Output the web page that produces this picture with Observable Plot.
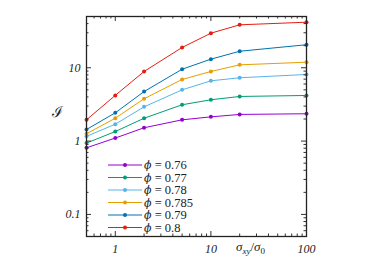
<!DOCTYPE html>
<html><head><meta charset="utf-8">
<script src="https://cdn.jsdelivr.net/npm/d3@7"></script>
<script src="https://cdn.jsdelivr.net/npm/@observablehq/plot@0.6"></script>
<style>
html,body{margin:0;padding:0;background:#fff;}
svg g[aria-label$="tick label"]{font-style:italic;}
</style>
</head><body>
<div id="chart"></div>
<script>
const xs = [0.5, 1, 2, 5, 10, 20, 100];
const phis = ["0.76", "0.77", "0.78", "0.785", "0.79", "0.8"];
const colors = ["#9400d3", "#009e73", "#56b4e9", "#e69f00", "#0072b2", "#e51e10"];
const I076 = [0.81, 1.10, 1.52, 1.95, 2.14, 2.31, 2.36];
const I077 = [0.94, 1.35, 2.05, 3.13, 3.66, 4.06, 4.19];
const I078 = [1.16, 1.70, 2.93, 5.0, 6.64, 7.3, 8.1];
const I0785 = [1.26, 2.05, 3.78, 6.92, 8.9, 10.96, 11.9];
const I079 = [1.44, 2.43, 4.74, 9.55, 13.1, 16.8, 20.6];
const I080 = [1.95, 4.2, 8.9, 18.9, 29.6, 38.5, 41.8];
const series = [I076, I077, I078, I0785, I079, I080];
const xMajor = [1, 10, 100];
const xMinor = [0.6, 0.7, 0.8, 0.9, 2, 3, 4, 5, 6, 7, 8, 9, 20, 30, 40, 50, 60, 70, 80, 90];
const yMajor = [0.1, 1, 10];
const yMinor = [0.06, 0.07, 0.08, 0.09, 0.2, 0.3, 0.4, 0.5, 0.6, 0.7, 0.8, 0.9, 2, 3, 4, 5, 6, 7, 8, 9, 20, 30, 40];
const xLabels = ["1", "10", "100"];
const yLabels = ["0.1", "1", "10"];

const rows = [];
series.forEach((s, i) => s.forEach((v, j) => rows.push({x: xs[j], y: v, phi: phis[i]})));

const W = 374, H = 263, ML = 86, MR = 68, MT = 16, MB = 27;
const IW = W - ML - MR, IH = H - MT - MB;
const maj = 5, mnr = 2.5;
const tc = "#333";
const tickMarks = [
  Plot.tickX(xMajor, {x: d => d, insetTop: IH - maj, stroke: tc}),
  Plot.tickX(xMajor, {x: d => d, insetBottom: IH - maj, stroke: tc}),
  Plot.tickX(xMinor, {x: d => d, insetTop: IH - mnr, stroke: tc}),
  Plot.tickX(xMinor, {x: d => d, insetBottom: IH - mnr, stroke: tc}),
  Plot.tickY(yMajor, {y: d => d, insetRight: IW - maj, stroke: tc}),
  Plot.tickY(yMajor, {y: d => d, insetLeft: IW - maj, stroke: tc}),
  Plot.tickY(yMinor, {y: d => d, insetRight: IW - mnr, stroke: tc}),
  Plot.tickY(yMinor, {y: d => d, insetLeft: IW - mnr, stroke: tc})
];

const chart = Plot.plot({
  width: W, height: H,
  marginLeft: ML, marginRight: MR, marginTop: MT, marginBottom: MB,
  x: {type: "log", domain: [0.5, 100]},
  y: {type: "log", domain: [0.05, 50]},
  color: {domain: phis, range: colors},
  style: {fontFamily: "'Liberation Serif', serif", fontSize: "12px", background: "#fff", color: "#222"},
  marks: [
    Plot.line(rows, {x: "x", y: "y", z: "phi", stroke: "phi", strokeWidth: 1}),
    Plot.dot(rows, {x: "x", y: "y", fill: "phi", r: 2}),
    ...tickMarks,
    Plot.axisX({anchor: "bottom", ticks: xMajor, tickSize: 0, tickPadding: 8, tickFormat: d => xLabels[xMajor.indexOf(d)], label: null, fontSize: 12}),
    Plot.axisY({anchor: "left", ticks: yMajor, tickSize: 0, tickPadding: 6, tickFormat: d => yLabels[yMajor.indexOf(d)], label: null, fontSize: 12}),
    Plot.frame({stroke: "#222", strokeWidth: 1.3})
  ]
});
document.getElementById("chart").appendChild(chart);

const svg = d3.select(chart);
// legend
const lg = svg.append("g").attr("font-family", "'Liberation Serif', serif").attr("font-size", 12.5).attr("text-anchor", "start");
const lx0 = 108, lx1 = 142, ly0 = 165, ldy = 12.5;
phis.forEach((p, i) => {
  const y = ly0 + i * ldy;
  lg.append("line").attr("x1", lx0).attr("x2", lx1).attr("y1", y).attr("y2", y).attr("stroke", colors[i]).attr("stroke-width", 1);
  lg.append("circle").attr("cx", (lx0 + lx1) / 2).attr("cy", y).attr("r", 2).attr("fill", colors[i]);
  const t = lg.append("text").attr("x", lx1 + 2).attr("y", y).attr("dy", "0.35em").attr("fill", "#222");
  t.append("tspan").attr("font-style", "italic").attr("font-family", "'DejaVu Serif', serif").attr("font-size", 11).text("ϕ");
  t.append("tspan").text(" = " + p);
});
// x label
const xl = svg.append("text").attr("x", 236).attr("y", 251).attr("text-anchor", "start").attr("font-family", "'Liberation Serif', serif").attr("font-size", 13).attr("fill", "#222");
xl.append("tspan").attr("font-style", "italic").text("σ");
xl.append("tspan").attr("font-style", "italic").attr("font-size", 9).attr("dy", 3).text("xy");
xl.append("tspan").attr("dy", -3).text("/");
xl.append("tspan").attr("font-style", "italic").text("σ");
xl.append("tspan").attr("font-size", 9).attr("dy", 3).text("0");
// y label
svg.append("text").attr("x", 57).attr("y", 112).attr("dy", "0.35em").attr("text-anchor", "middle")
  .attr("font-family", "'DejaVu Serif', serif").attr("font-size", 15).attr("fill", "#222").text("ℐ");
</script>
</body></html>
